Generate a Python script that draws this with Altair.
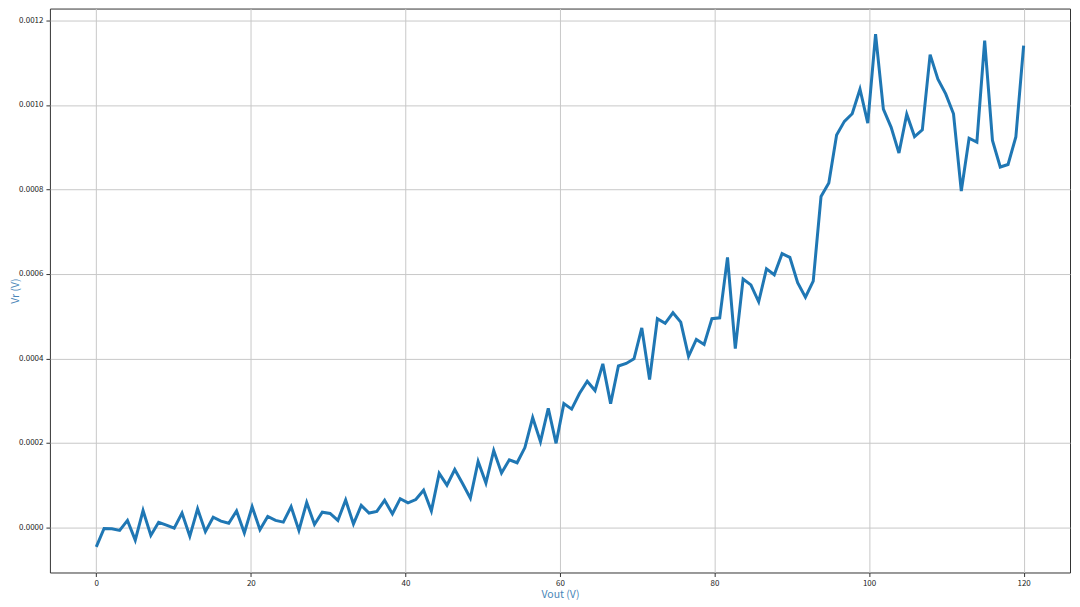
import altair as alt
import pandas as pd
import numpy as np

vout = np.linspace(0, 120, 120)
vr = [
    -4.6e-5, -2.4e-6, -3e-6, -7e-6, 1.65e-5, -3.0e-5, 4.0e-5, -1.9e-5, 1.2e-5, 5.5e-6,
    -1.6e-6, 3.4e-5, -2.1e-5, 4.4e-5, -1.0e-5, 2.4e-5, 1.5e-5, 1.0e-5, 3.9e-5, -1.3e-5,
    4.9e-5, -5.5e-6, 2.6e-5, 1.65e-5, 1.26e-5, 4.9e-5, -7e-6, 5.9e-5, 7e-6, 3.6e-5,
    3.3e-5, 1.65e-5, 6.5e-5, 8e-6, 5.2e-5, 3.4e-5, 3.8e-5, 6.4e-5, 3.2e-5, 6.8e-5,
    5.8e-5, 6.6e-5, 8.8e-5, 3.9e-5, 1.28e-4, 1.0e-4, 1.37e-4, 1.04e-4, 6.9e-5, 1.56e-4,
    1.05e-4, 1.82e-4, 1.29e-4, 1.6e-4, 1.53e-4, 1.89e-4, 2.6e-4, 2.03e-4, 2.82e-4, 1.99e-4,
    2.93e-4, 2.8e-4, 3.17e-4, 3.46e-4, 3.24e-4, 3.87e-4, 2.93e-4, 3.82e-4, 3.88e-4, 3.99e-4,
    4.72e-4, 3.5e-4, 4.94e-4, 4.83e-4, 5.08e-4, 4.86e-4, 4.05e-4, 4.45e-4, 4.33e-4, 4.94e-4,
    4.96e-4, 6.39e-4, 4.23e-4, 5.88e-4, 5.74e-4, 5.34e-4, 6.12e-4, 5.98e-4, 6.48e-4, 6.39e-4,
    5.79e-4, 5.45e-4, 5.83e-4, 7.83e-4, 8.15e-4, 9.29e-4, 9.61e-4, 9.79e-4, 1.037e-3, 9.57e-4,
    1.1675e-3, 9.9e-4, 9.47e-4, 8.86e-4, 9.78e-4, 9.25e-4, 9.41e-4, 1.119e-3, 1.061e-3, 1.026e-3,
    9.79e-4, 7.96e-4, 9.21e-4, 9.12e-4, 1.152e-3, 9.16e-4, 8.53e-4, 8.59e-4, 9.24e-4, 1.14e-3,
]
x_ticks = [0, 20, 40, 60, 80, 100, 120]
y_ticks = [0.0, 0.0002, 0.0004, 0.0006, 0.0008, 0.0010, 0.0012]

df = pd.DataFrame({"Vout": vout, "Vr": vr})

label_font = "Noto Sans CJK SC"

chart = alt.Chart(df).mark_line(color="#1f77b4", strokeWidth=3).encode(
    x=alt.X("Vout:Q",
            scale=alt.Scale(domain=[-6, 126], nice=False, zero=False),
            axis=alt.Axis(values=x_ticks, title="Vout (V)", format="d", titlePadding=2)),
    y=alt.Y("Vr:Q",
            scale=alt.Scale(domain=[-1.067e-4, 1.228e-3], nice=False, zero=False),
            axis=alt.Axis(values=y_ticks, title="Vr (V)", format=".4f",
                          titleX=-29, titleY=282.5, titleAngle=270,
                          titleBaseline="bottom", titleAlign="center")),
).properties(
    width=1022, height=565,
    autosize=alt.AutoSizeParams(type="none"),
    padding={"left": 42, "top": 0, "right": 2, "bottom": 32},
).configure_view(
    stroke="#333333", strokeWidth=1
).configure_axis(
    domain=False,
    grid=True, gridColor="#c8c8c8", gridWidth=1,
    ticks=True, tickColor="#333333", tickSize=4,
    labelFont=label_font, labelFontSize=8, labelColor="#222222",
    labelPadding=3,
    titleFont=label_font, titleFontSize=10.5, titleColor="#4a86b8", titleFontWeight="normal",
)

chart.save("out.html", embed_options={"renderer": "svg", "actions": False})
